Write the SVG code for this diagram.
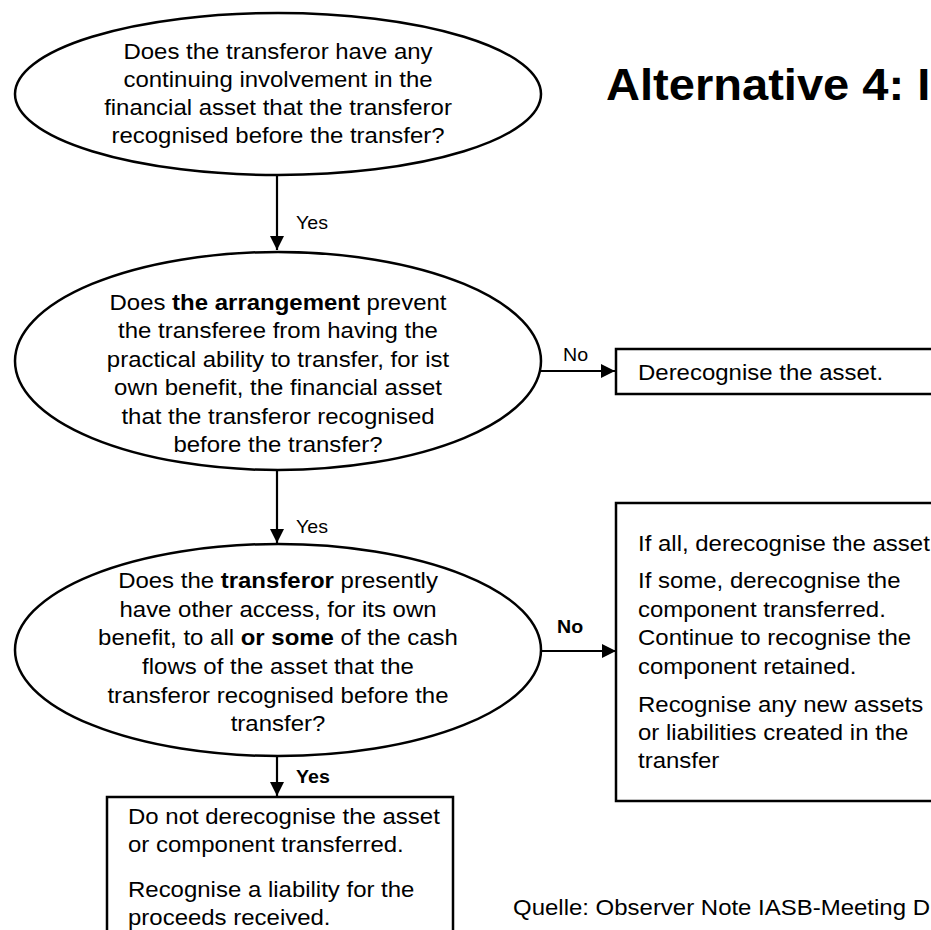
<svg xmlns="http://www.w3.org/2000/svg" width="931" height="930" viewBox="0 0 931 930">
<style>
  .t { font-family: "Liberation Sans", Arial, sans-serif; font-size: 22px; fill: #000; }
  .c { text-anchor: middle; }
  .b { font-weight: bold; }
  .lbl { font-family: "Liberation Sans", Arial, sans-serif; font-size: 18px; fill: #000; }
  .shape { fill: #fff; stroke: #000; stroke-width: 2.5; }
  .conn { stroke: #000; stroke-width: 2.2; fill: none; }
</style>
<defs>
  <marker id="arr" markerUnits="userSpaceOnUse" markerWidth="15" markerHeight="15" refX="14" refY="7" orient="auto">
    <path d="M0,0 L14,7 L0,14 Z" fill="#000"/>
  </marker>
</defs>
<rect width="931" height="930" fill="#fff"/>

<g id="heading">
  <text class="t b" style="font-size:44px" transform="translate(606 0) scale(1.07 1)" x="0" y="100">Alternative 4: I</text>
</g>

<g id="connectors">
  <line class="conn" x1="277" y1="175" x2="277" y2="250" marker-end="url(#arr)"/>
  <line class="conn" x1="277" y1="470" x2="277" y2="543" marker-end="url(#arr)"/>
  <line class="conn" x1="277" y1="756" x2="277" y2="796" marker-end="url(#arr)"/>
  <line class="conn" x1="541" y1="371" x2="615" y2="371" marker-end="url(#arr)"/>
  <line class="conn" x1="541" y1="651" x2="616" y2="651" marker-end="url(#arr)"/>
  <g transform="translate(296 0) scale(1.09 1)">
    <text class="lbl" x="0" y="229">Yes</text>
    <text class="lbl" x="0" y="533">Yes</text>
    <text class="lbl b" x="0" y="783">Yes</text>
  </g>
  <g transform="translate(563 0) scale(1.09 1)">
    <text class="lbl" x="0" y="361">No</text>
  </g>
  <g transform="translate(557 0) scale(1.09 1)">
    <text class="lbl b" x="0" y="633">No</text>
  </g>
</g>

<g id="q1">
  <ellipse class="shape" cx="278" cy="94" rx="263" ry="81"/>
  <g class="t c" transform="translate(278 0) scale(1.09 1)">
    <text x="0" y="59">Does the transferor have any</text>
    <text x="0" y="87">continuing involvement in the</text>
    <text x="0" y="115">financial asset that the transferor</text>
    <text x="0" y="143">recognised before the transfer?</text>
  </g>
</g>

<g id="q2">
  <ellipse class="shape" cx="278" cy="361" rx="263" ry="109"/>
  <g class="t c" transform="translate(278 0) scale(1.09 1)">
    <text x="0" y="310">Does <tspan class="b">the arrangement</tspan> prevent</text>
    <text x="0" y="338.5">the transferee from having the</text>
    <text x="0" y="367">practical ability to transfer, for ist</text>
    <text x="0" y="395.5">own benefit, the financial asset</text>
    <text x="0" y="424">that the transferor recognised</text>
    <text x="0" y="452.5">before the transfer?</text>
  </g>
</g>

<g id="q3">
  <ellipse class="shape" cx="278" cy="650" rx="263" ry="106"/>
  <g class="t c" transform="translate(278 0) scale(1.09 1)">
    <text x="0" y="588">Does the <tspan class="b">transferor</tspan> presently</text>
    <text x="0" y="617">have other access, for its own</text>
    <text x="0" y="645">benefit, to all <tspan class="b">or some</tspan> of the cash</text>
    <text x="0" y="674">flows of the asset that the</text>
    <text x="0" y="703">transferor recognised before the</text>
    <text x="0" y="731">transfer?</text>
  </g>
</g>

<g id="derecognise">
  <rect class="shape" x="616" y="349" width="340" height="45"/>
  <g class="t" transform="translate(638 0) scale(1.09 1)">
    <text x="0" y="380">Derecognise the asset.</text>
  </g>
</g>

<g id="partial">
  <rect class="shape" x="616" y="503" width="340" height="298"/>
  <g class="t" transform="translate(638 0) scale(1.09 1)">
    <text x="0" y="551">If all, derecognise the asset</text>
    <text x="0" y="588">If some, derecognise the</text>
    <text x="0" y="617">component transferred.</text>
    <text x="0" y="645">Continue to recognise the</text>
    <text x="0" y="674">component retained.</text>
    <text x="0" y="712">Recognise any new assets</text>
    <text x="0" y="740">or liabilities created in the</text>
    <text x="0" y="768">transfer</text>
  </g>
</g>

<g id="keep">
  <rect class="shape" x="107" y="797" width="346" height="150"/>
  <g class="t" transform="translate(128 0) scale(1.09 1)">
    <text x="0" y="824">Do not derecognise the asset</text>
    <text x="0" y="852">or component transferred.</text>
    <text x="0" y="897">Recognise a liability for the</text>
    <text x="0" y="925">proceeds received.</text>
  </g>
</g>

<g id="source">
  <text class="t" transform="translate(513 0) scale(1.09 1)" x="0" y="915">Quelle: Observer Note IASB-Meeting D</text>
</g>
</svg>
